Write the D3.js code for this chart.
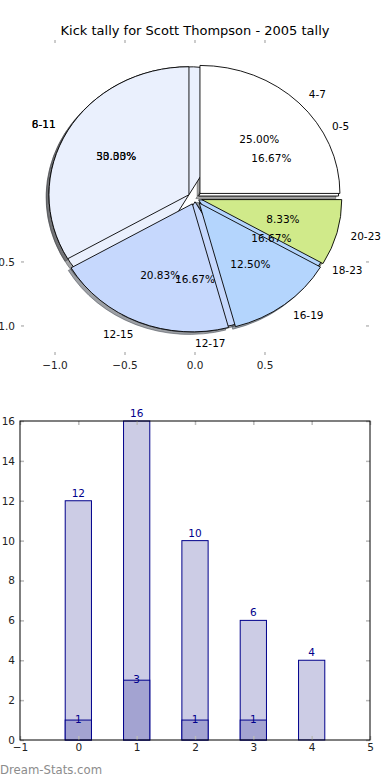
<!DOCTYPE html>
<html>
<head>
<meta charset="utf-8">
<title>Kick tally pie + bars</title>
<style>
    body { margin: 0; background: #fff; }
    svg { display: block; font-family: "DejaVu Sans", sans-serif; }
</style>
</head>
<body>
<main></main>
<script src="https://cdn.jsdelivr.net/npm/d3@7"></script>
<script>
    // data ============================
    var title = "Kick tally for Scott Thompson - 2005 tally";

    // inner pie (drawn first, mostly hidden)
    var pieALabels = ["0-5", "6-11", "12-17", "18-23"];
    var pieAValues = [1, 3, 1, 1];
    // outer pie (drawn on top)
    var pieBLabels = ["4-7", "8-11", "12-15", "16-19", "20-23"];
    var pieBValues = [12, 16, 10, 6, 4];
    var pieColors = ["#ffffff", "#eaf0fd", "#c6d8fd", "#b4d5fd", "#d0ea8a"];

    var pieXTicks = [-1.0, -0.5, 0.0, 0.5];
    var pieYTicks = [-0.5, -1.0];

    var barCats = [0, 1, 2, 3, 4];
    var barTotals = [12, 16, 10, 6, 4];
    var barPart = [1, 3, 1, 1, 0];
    var barXTicks = [-1, 0, 1, 2, 3, 4, 5];
    var barYTicks = [0, 2, 4, 6, 8, 10, 12, 14, 16];

    // settings ========================
    var width = 390, height = 780;
    var explodeA = [0.03, 0.05, 0.03, 0.03];
    var explodeB = [0.05, 0.05, 0.05, 0.05, 0.05];
    var tickGray = "#bbbbbb";
    var navy = "#00008b";

    var svg = d3.select("main").append("svg")
        .attr("width", width)
        .attr("height", height);

    // pie axes (elliptical because aspect is not equal)
    var px = d3.scaleLinear().domain([-1.243, 1.243]).range([21, 369]);
    var py = d3.scaleLinear().domain([-1.227, 1.234]).range([355, 40]);

    svg.append("text")
        .attr("x", 195).attr("y", 35)
        .attr("text-anchor", "middle")
        .attr("font-size", "13px")
        .text(title);

    // pie ticks: marks on all sides, labels bottom/left
    var pieTicks = svg.append("g");
    pieXTicks.forEach(function (t) {
        pieTicks.append("line").attr("x1", px(t)).attr("x2", px(t))
            .attr("y1", py.range()[1]).attr("y2", py.range()[1] + 3);
        pieTicks.append("line").attr("x1", px(t)).attr("x2", px(t))
            .attr("y1", py.range()[0]).attr("y2", py.range()[0] - 3);
        pieTicks.append("text").attr("x", px(t)).attr("y", py.range()[0] + 14)
            .attr("text-anchor", "middle").text(d3.format(".1f")(t));
    });
    pieYTicks.forEach(function (t) {
        pieTicks.append("line").attr("x1", px.range()[0]).attr("x2", px.range()[0] + 3)
            .attr("y1", py(t)).attr("y2", py(t));
        pieTicks.append("line").attr("x1", px.range()[1]).attr("x2", px.range()[1] - 3)
            .attr("y1", py(t)).attr("y2", py(t));
        pieTicks.append("text").attr("x", px.range()[0] - 6).attr("y", py(t) + 4)
            .attr("text-anchor", "end").text(d3.format(".1f")(t));
    });
    pieTicks.selectAll("line").attr("stroke", tickGray).attr("stroke-width", 1.5);
    pieTicks.selectAll("text").attr("font-size", "10.5px").attr("fill", "#222");

    // angles: matplotlib style, counter-clockwise from 3 o'clock
    var pie = d3.pie().sort(null).startAngle(0).endAngle(2 * Math.PI);

    function slices(values, labels, explode) {
        var total = d3.sum(values);
        return pie(values).map(function (d, i) {
            var mid = (d.startAngle + d.endAngle) / 2;
            return {
                label: labels[i],
                pct: d3.format(".2f")(d.value / total * 100) + "%",
                t1: d.startAngle, t2: d.endAngle, mid: mid,
                cx: explode[i] * Math.cos(mid), cy: explode[i] * Math.sin(mid),
                color: pieColors[i % pieColors.length]
            };
        });
    }

    function wedgePath(s, ox, oy) {
        var cx = s.cx + ox, cy = s.cy + oy;
        var rx = px(1) - px(0), ry = py(0) - py(1);
        var large = (s.t2 - s.t1) > Math.PI ? 1 : 0;
        return "M" + px(cx) + "," + py(cy) +
            "L" + px(cx + Math.cos(s.t1)) + "," + py(cy + Math.sin(s.t1)) +
            "A" + rx + "," + ry + " 0 " + large + " 0 " +
            px(cx + Math.cos(s.t2)) + "," + py(cy + Math.sin(s.t2)) + "Z";
    }

    function shade(s) {
        var c = d3.rgb(s.color);
        return d3.rgb(c.r * 0.3, c.g * 0.3, c.b * 0.3, 0.5);
    }

    var slicesA = slices(pieAValues, pieALabels, explodeA);
    var slicesB = slices(pieBValues, pieBLabels, explodeB);
    var all = slicesA.concat(slicesB);

    // shadows go under every wedge
    svg.append("g").selectAll("path").data(all).enter().append("path")
        .attr("d", function (s) { return wedgePath(s, -0.02, -0.02); })
        .attr("fill", shade)
        .attr("stroke", shade)
        .attr("stroke-width", 1);

    svg.append("g").selectAll("path").data(all).enter().append("path")
        .attr("d", function (s) { return wedgePath(s, 0, 0); })
        .attr("fill", function (s) { return s.color; })
        .attr("stroke", "#000")
        .attr("stroke-width", 0.9)
        .attr("stroke-linejoin", "round");

    // labels at 1.1 r, percents at 0.6 r (from the exploded centre)
    var pieText = svg.append("g").attr("font-size", "10.5px");
    all.forEach(function (s) {
        var lx = s.cx + 1.1 * Math.cos(s.mid), ly = s.cy + 1.1 * Math.sin(s.mid);
        pieText.append("text")
            .attr("x", px(lx)).attr("y", py(ly) + 4)
            .attr("text-anchor", Math.cos(s.mid) < -1e-9 ? "end" : "start")
            .text(s.label);
        var tx = s.cx + 0.6 * Math.cos(s.mid), ty = s.cy + 0.6 * Math.sin(s.mid);
        pieText.append("text")
            .attr("x", px(tx)).attr("y", py(ty) + 4)
            .attr("text-anchor", "middle")
            .text(s.pct);
    });

    // bar chart =======================
    var bx = d3.scaleLinear().domain([-1, 5]).range([20, 370]);
    var by = d3.scaleLinear().domain([0, 16]).range([740, 421]);
    var barW = 0.45;

    var bars = svg.append("g");
    bars.selectAll("rect.total").data(barCats).enter().append("rect")
        .attr("class", "total")
        .attr("x", function (d) { return bx(d - barW / 2); })
        .attr("y", function (d, i) { return by(barTotals[i]); })
        .attr("width", bx(barW) - bx(0))
        .attr("height", function (d, i) { return by(0) - by(barTotals[i]); })
        .attr("fill", "#ccccE5").attr("stroke", navy).attr("stroke-width", 1);

    var partCats = barCats.filter(function (d, i) { return barPart[i] > 0; });
    bars.selectAll("rect.part").data(partCats).enter().append("rect")
        .attr("class", "part")
        .attr("x", function (d) { return bx(d - barW / 2); })
        .attr("y", function (d) { return by(barPart[d]); })
        .attr("width", bx(barW) - bx(0))
        .attr("height", function (d) { return by(0) - by(barPart[d]); })
        .attr("fill", "#a3a3d1").attr("stroke", navy).attr("stroke-width", 1);

    bars.selectAll("text.total").data(barCats).enter().append("text")
        .attr("x", function (d) { return bx(d); })
        .attr("y", function (d, i) { return by(barTotals[i]) - 4; })
        .attr("text-anchor", "middle").attr("font-size", "10.5px").attr("fill", navy)
        .text(function (d, i) { return barTotals[i]; });

    bars.selectAll("text.part").data(partCats).enter().append("text")
        .attr("x", function (d) { return bx(d); })
        .attr("y", function (d) { return by(barPart[d]) + 3; })
        .attr("text-anchor", "middle").attr("font-size", "10.5px").attr("fill", navy)
        .text(function (d) { return barPart[d]; });

    // axes: gray ticks pointing inside, on all four sides
    function styleAxis(g) {
        g.select(".domain").remove();
        g.selectAll(".tick line").attr("stroke", tickGray).attr("stroke-width", 1.5);
        g.selectAll(".tick text").attr("fill", "#222").attr("font-size", "10.5px")
            .attr("font-family", "DejaVu Sans");
    }
    var intFmt = d3.format("d");
    svg.append("g").attr("transform", "translate(0," + by(0) + ")")
        .call(d3.axisBottom(bx).tickValues(barXTicks).tickFormat(intFmt).tickSize(-4).tickPadding(4))
        .call(styleAxis);
    svg.append("g").attr("transform", "translate(0," + by(16) + ")")
        .call(d3.axisTop(bx).tickValues(barXTicks).tickSize(-4).tickFormat(""))
        .call(styleAxis);
    svg.append("g").attr("transform", "translate(" + bx(-1) + ",0)")
        .call(d3.axisLeft(by).tickValues(barYTicks).tickFormat(intFmt).tickSize(-4).tickPadding(5))
        .call(styleAxis);
    svg.append("g").attr("transform", "translate(" + bx(5) + ",0)")
        .call(d3.axisRight(by).tickValues(barYTicks).tickSize(-4).tickFormat(""))
        .call(styleAxis);

    svg.append("rect")
        .attr("x", bx(-1)).attr("y", by(16))
        .attr("width", bx(5) - bx(-1)).attr("height", by(0) - by(16))
        .attr("fill", "none").attr("stroke", "#000").attr("stroke-width", 1);

    // watermark
    svg.append("text")
        .attr("x", 0).attr("y", 774)
        .attr("font-size", "11.7px")
        .attr("fill", "#8c8c8c")
        .text("Dream-Stats.com");
</script>
</body>
</html>
